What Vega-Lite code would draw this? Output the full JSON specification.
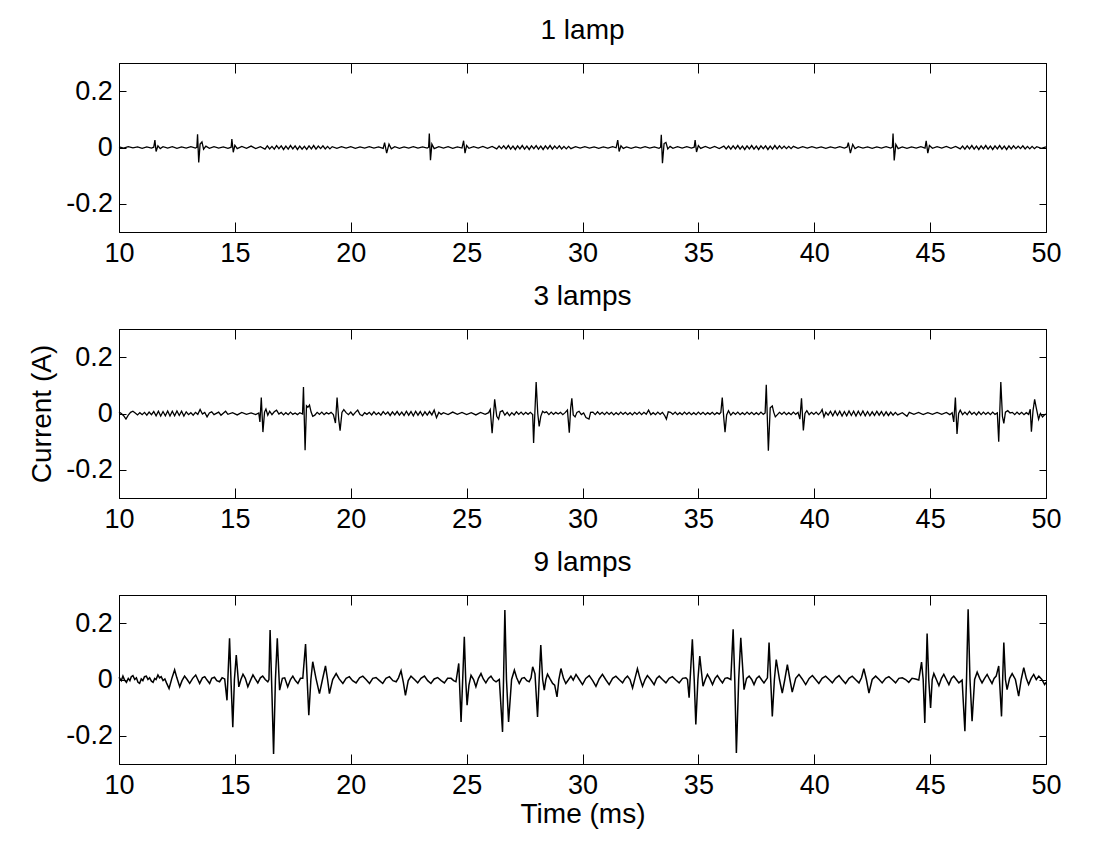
{
"$schema":"https://vega.github.io/schema/vega-lite/v6.json",
"background":"white",
"padding":{"left":28,"top":16,"right":5,"bottom":5},
"config":{
 "view":{"stroke":"black","strokeWidth":1},
 "axis":{"domainColor":"black","tickColor":"black","labelColor":"black","labelFont":"Liberation Sans","labelFontSize":27,"grid":false,"domainWidth":1,"tickWidth":1,"titleFont":"Liberation Sans","titleFontWeight":"normal","titleColor":"black","titleFontSize":28,"labelFlush":false,"labelOverlap":false},
 "title":{"font":"Liberation Sans","fontSize":28,"fontWeight":"normal","color":"black","baseline":"alphabetic","offset":18}
},
"datasets":{
"l1":[{"t":10.0,"v":0.002},{"t":10.2,"v":-0.002},{"t":10.4,"v":0.003},{"t":10.6,"v":-0.001},{"t":10.8,"v":0.002},{"t":11.0,"v":-0.003},{"t":11.2,"v":0.002},{"t":11.4,"v":-0.002},{"t":11.5,"v":0.001},{"t":11.55,"v":0.026},{"t":11.6,"v":-0.014},{"t":11.68,"v":0.006},{"t":11.78,"v":-0.004},{"t":11.9,"v":0.003},{"t":12.1,"v":-0.002},{"t":12.3,"v":0.003},{"t":12.5,"v":-0.003},{"t":12.7,"v":0.002},{"t":12.9,"v":-0.002},{"t":13.1,"v":0.003},{"t":13.3,"v":-0.002},{"t":13.36,"v":0.001},{"t":13.39,"v":0.047},{"t":13.44,"v":-0.053},{"t":13.5,"v":0.012},{"t":13.58,"v":0.02},{"t":13.65,"v":-0.006},{"t":13.75,"v":0.005},{"t":13.9,"v":-0.003},{"t":14.1,"v":0.003},{"t":14.3,"v":-0.002},{"t":14.5,"v":0.002},{"t":14.7,"v":-0.003},{"t":14.84,"v":0.001},{"t":14.87,"v":0.03},{"t":14.93,"v":-0.017},{"t":15.0,"v":0.008},{"t":15.1,"v":-0.004},{"t":15.3,"v":0.004},{"t":15.5,"v":-0.003},{"t":15.7,"v":0.005},{"t":15.9,"v":-0.004},{"t":16.1,"v":0.003},{"t":16.3,"v":-0.006},{"t":16.4,"v":0.006},{"t":16.5,"v":-0.005},{"t":16.6,"v":0.004},{"t":16.7,"v":-0.006},{"t":16.8,"v":0.007},{"t":16.9,"v":-0.004},{"t":17.0,"v":0.006},{"t":17.1,"v":-0.007},{"t":17.2,"v":0.005},{"t":17.3,"v":-0.006},{"t":17.4,"v":0.007},{"t":17.5,"v":-0.005},{"t":17.6,"v":0.006},{"t":17.7,"v":-0.007},{"t":17.8,"v":0.005},{"t":17.9,"v":-0.006},{"t":18.0,"v":0.004},{"t":18.1,"v":-0.007},{"t":18.2,"v":0.006},{"t":18.3,"v":-0.005},{"t":18.4,"v":0.007},{"t":18.5,"v":-0.006},{"t":18.6,"v":0.005},{"t":18.7,"v":-0.004},{"t":18.8,"v":0.006},{"t":18.9,"v":-0.005},{"t":19.0,"v":0.004},{"t":19.1,"v":-0.005},{"t":19.2,"v":0.003},{"t":19.4,"v":-0.003},{"t":19.6,"v":0.003},{"t":19.8,"v":-0.002},{"t":20.0,"v":0.003},{"t":20.2,"v":-0.003},{"t":20.4,"v":0.002},{"t":20.6,"v":-0.002},{"t":20.8,"v":0.003},{"t":21.0,"v":-0.002},{"t":21.2,"v":0.002},{"t":21.4,"v":-0.003},{"t":21.46,"v":0.017},{"t":21.55,"v":-0.02},{"t":21.65,"v":0.012},{"t":21.75,"v":-0.005},{"t":21.9,"v":0.003},{"t":22.1,"v":-0.003},{"t":22.3,"v":0.002},{"t":22.5,"v":-0.002},{"t":22.7,"v":0.003},{"t":22.9,"v":-0.002},{"t":23.1,"v":0.002},{"t":23.3,"v":-0.002},{"t":23.36,"v":0.001},{"t":23.39,"v":0.05},{"t":23.44,"v":-0.045},{"t":23.5,"v":0.012},{"t":23.6,"v":-0.004},{"t":23.8,"v":0.003},{"t":24.0,"v":-0.002},{"t":24.2,"v":0.003},{"t":24.4,"v":-0.003},{"t":24.6,"v":0.002},{"t":24.8,"v":-0.002},{"t":24.87,"v":0.024},{"t":24.93,"v":-0.02},{"t":25.0,"v":0.007},{"t":25.1,"v":-0.003},{"t":25.3,"v":0.003},{"t":25.5,"v":-0.002},{"t":25.7,"v":0.004},{"t":25.9,"v":-0.003},{"t":26.1,"v":0.004},{"t":26.3,"v":-0.005},{"t":26.4,"v":0.005},{"t":26.5,"v":-0.004},{"t":26.6,"v":0.006},{"t":26.7,"v":-0.005},{"t":26.8,"v":0.007},{"t":26.9,"v":-0.006},{"t":27.0,"v":0.005},{"t":27.1,"v":-0.007},{"t":27.2,"v":0.006},{"t":27.3,"v":-0.005},{"t":27.4,"v":0.007},{"t":27.5,"v":-0.006},{"t":27.6,"v":0.005},{"t":27.7,"v":-0.007},{"t":27.8,"v":0.006},{"t":27.9,"v":-0.004},{"t":28.0,"v":0.007},{"t":28.1,"v":-0.006},{"t":28.2,"v":0.005},{"t":28.3,"v":-0.007},{"t":28.4,"v":0.006},{"t":28.5,"v":-0.005},{"t":28.6,"v":0.007},{"t":28.7,"v":-0.006},{"t":28.8,"v":0.005},{"t":28.9,"v":-0.004},{"t":29.0,"v":0.006},{"t":29.1,"v":-0.005},{"t":29.2,"v":0.004},{"t":29.3,"v":-0.005},{"t":29.4,"v":0.004},{"t":29.5,"v":-0.004},{"t":29.7,"v":0.003},{"t":29.9,"v":-0.002},{"t":30.1,"v":0.003},{"t":30.3,"v":-0.002},{"t":30.5,"v":0.002},{"t":30.7,"v":-0.003},{"t":30.9,"v":0.002},{"t":31.1,"v":-0.002},{"t":31.3,"v":0.003},{"t":31.45,"v":-0.001},{"t":31.52,"v":0.026},{"t":31.58,"v":-0.014},{"t":31.66,"v":0.006},{"t":31.76,"v":-0.003},{"t":31.9,"v":0.002},{"t":32.1,"v":-0.003},{"t":32.3,"v":0.002},{"t":32.5,"v":-0.002},{"t":32.7,"v":0.003},{"t":32.9,"v":-0.002},{"t":33.1,"v":0.002},{"t":33.3,"v":-0.003},{"t":33.37,"v":0.001},{"t":33.4,"v":0.045},{"t":33.45,"v":-0.056},{"t":33.52,"v":0.014},{"t":33.6,"v":0.018},{"t":33.68,"v":-0.005},{"t":33.78,"v":0.004},{"t":33.9,"v":-0.003},{"t":34.1,"v":0.003},{"t":34.3,"v":-0.002},{"t":34.5,"v":0.003},{"t":34.7,"v":-0.002},{"t":34.82,"v":0.001},{"t":34.86,"v":0.026},{"t":34.92,"v":-0.016},{"t":35.0,"v":0.007},{"t":35.1,"v":-0.003},{"t":35.3,"v":0.004},{"t":35.5,"v":-0.003},{"t":35.7,"v":0.004},{"t":35.9,"v":-0.004},{"t":36.1,"v":0.005},{"t":36.2,"v":-0.005},{"t":36.3,"v":0.005},{"t":36.4,"v":-0.006},{"t":36.5,"v":0.006},{"t":36.6,"v":-0.005},{"t":36.7,"v":0.007},{"t":36.8,"v":-0.006},{"t":36.9,"v":0.005},{"t":37.0,"v":-0.007},{"t":37.1,"v":0.006},{"t":37.2,"v":-0.005},{"t":37.3,"v":0.007},{"t":37.4,"v":-0.006},{"t":37.5,"v":0.005},{"t":37.6,"v":-0.007},{"t":37.7,"v":0.006},{"t":37.8,"v":-0.004},{"t":37.9,"v":0.006},{"t":38.0,"v":-0.007},{"t":38.1,"v":0.005},{"t":38.2,"v":-0.006},{"t":38.3,"v":0.007},{"t":38.4,"v":-0.005},{"t":38.5,"v":0.006},{"t":38.6,"v":-0.004},{"t":38.7,"v":0.005},{"t":38.8,"v":-0.004},{"t":38.9,"v":0.004},{"t":39.0,"v":-0.004},{"t":39.1,"v":0.004},{"t":39.3,"v":-0.003},{"t":39.5,"v":0.003},{"t":39.7,"v":-0.002},{"t":39.9,"v":0.003},{"t":40.1,"v":-0.002},{"t":40.3,"v":0.002},{"t":40.5,"v":-0.003},{"t":40.7,"v":0.002},{"t":40.9,"v":-0.002},{"t":41.1,"v":0.003},{"t":41.3,"v":-0.002},{"t":41.42,"v":0.002},{"t":41.47,"v":0.017},{"t":41.56,"v":-0.02},{"t":41.66,"v":0.011},{"t":41.76,"v":-0.004},{"t":41.9,"v":0.003},{"t":42.1,"v":-0.002},{"t":42.3,"v":0.002},{"t":42.5,"v":-0.003},{"t":42.7,"v":0.002},{"t":42.9,"v":-0.002},{"t":43.1,"v":0.003},{"t":43.3,"v":-0.002},{"t":43.37,"v":0.001},{"t":43.4,"v":0.05},{"t":43.45,"v":-0.046},{"t":43.52,"v":0.011},{"t":43.62,"v":-0.004},{"t":43.8,"v":0.002},{"t":44.0,"v":-0.003},{"t":44.2,"v":0.002},{"t":44.4,"v":-0.002},{"t":44.6,"v":0.003},{"t":44.78,"v":-0.002},{"t":44.83,"v":0.024},{"t":44.9,"v":-0.02},{"t":44.97,"v":0.007},{"t":45.1,"v":-0.003},{"t":45.3,"v":0.003},{"t":45.5,"v":-0.002},{"t":45.7,"v":0.004},{"t":45.9,"v":-0.003},{"t":46.1,"v":0.004},{"t":46.3,"v":-0.005},{"t":46.4,"v":0.005},{"t":46.5,"v":-0.006},{"t":46.6,"v":0.006},{"t":46.7,"v":-0.005},{"t":46.8,"v":0.007},{"t":46.9,"v":-0.006},{"t":47.0,"v":0.005},{"t":47.1,"v":-0.007},{"t":47.2,"v":0.006},{"t":47.3,"v":-0.005},{"t":47.4,"v":0.007},{"t":47.5,"v":-0.006},{"t":47.6,"v":0.005},{"t":47.7,"v":-0.007},{"t":47.8,"v":0.006},{"t":47.9,"v":-0.005},{"t":48.0,"v":0.007},{"t":48.1,"v":-0.006},{"t":48.2,"v":0.005},{"t":48.3,"v":-0.007},{"t":48.4,"v":0.006},{"t":48.5,"v":-0.005},{"t":48.6,"v":0.006},{"t":48.7,"v":-0.004},{"t":48.8,"v":0.005},{"t":48.9,"v":-0.004},{"t":49.0,"v":0.006},{"t":49.1,"v":-0.005},{"t":49.2,"v":0.004},{"t":49.3,"v":-0.005},{"t":49.4,"v":0.004},{"t":49.5,"v":-0.004},{"t":49.6,"v":0.003},{"t":49.8,"v":-0.003},{"t":50.0,"v":0.002}],
"l3":[{"t":10.0,"v":0.005},{"t":10.1,"v":0.0},{"t":10.2,"v":-0.008},{"t":10.3,"v":-0.02},{"t":10.4,"v":-0.006},{"t":10.5,"v":0.004},{"t":10.6,"v":0.008},{"t":10.7,"v":0.002},{"t":10.8,"v":-0.005},{"t":10.9,"v":0.003},{"t":11.0,"v":-0.004},{"t":11.1,"v":0.004},{"t":11.2,"v":-0.006},{"t":11.3,"v":0.005},{"t":11.4,"v":-0.004},{"t":11.5,"v":0.007},{"t":11.6,"v":-0.008},{"t":11.7,"v":0.008},{"t":11.8,"v":-0.009},{"t":11.9,"v":0.007},{"t":12.0,"v":-0.008},{"t":12.1,"v":0.009},{"t":12.2,"v":-0.009},{"t":12.3,"v":0.008},{"t":12.4,"v":-0.008},{"t":12.5,"v":0.009},{"t":12.6,"v":-0.007},{"t":12.7,"v":0.008},{"t":12.8,"v":-0.009},{"t":12.9,"v":0.006},{"t":13.0,"v":-0.004},{"t":13.1,"v":0.003},{"t":13.2,"v":-0.006},{"t":13.3,"v":0.004},{"t":13.4,"v":-0.003},{"t":13.5,"v":0.014},{"t":13.6,"v":-0.002},{"t":13.7,"v":0.004},{"t":13.8,"v":-0.012},{"t":13.9,"v":0.002},{"t":14.0,"v":0.006},{"t":14.1,"v":-0.004},{"t":14.3,"v":0.005},{"t":14.4,"v":-0.006},{"t":14.6,"v":0.008},{"t":14.7,"v":-0.003},{"t":14.9,"v":0.003},{"t":15.1,"v":-0.005},{"t":15.3,"v":0.004},{"t":15.5,"v":-0.003},{"t":15.7,"v":0.002},{"t":15.9,"v":-0.004},{"t":16.03,"v":0.002},{"t":16.08,"v":-0.03},{"t":16.14,"v":0.057},{"t":16.21,"v":-0.066},{"t":16.28,"v":0.005},{"t":16.34,"v":0.016},{"t":16.42,"v":-0.006},{"t":16.5,"v":0.008},{"t":16.6,"v":-0.004},{"t":16.7,"v":0.006},{"t":16.8,"v":0.012},{"t":16.9,"v":-0.002},{"t":17.0,"v":0.004},{"t":17.1,"v":-0.005},{"t":17.2,"v":0.003},{"t":17.3,"v":-0.004},{"t":17.4,"v":0.005},{"t":17.5,"v":-0.003},{"t":17.6,"v":0.002},{"t":17.7,"v":-0.004},{"t":17.8,"v":0.003},{"t":17.92,"v":-0.002},{"t":17.96,"v":0.094},{"t":18.03,"v":-0.13},{"t":18.09,"v":0.027},{"t":18.15,"v":0.022},{"t":18.22,"v":0.03},{"t":18.29,"v":0.005},{"t":18.36,"v":-0.01},{"t":18.45,"v":-0.006},{"t":18.55,"v":0.004},{"t":18.65,"v":-0.003},{"t":18.75,"v":0.005},{"t":18.85,"v":-0.004},{"t":18.95,"v":0.003},{"t":19.05,"v":-0.002},{"t":19.15,"v":0.004},{"t":19.25,"v":-0.004},{"t":19.34,"v":-0.034},{"t":19.41,"v":0.057},{"t":19.48,"v":-0.02},{"t":19.54,"v":-0.061},{"t":19.62,"v":0.004},{"t":19.7,"v":0.014},{"t":19.8,"v":0.003},{"t":19.9,"v":-0.004},{"t":20.0,"v":0.005},{"t":20.1,"v":-0.006},{"t":20.2,"v":0.004},{"t":20.3,"v":0.012},{"t":20.4,"v":-0.004},{"t":20.5,"v":-0.008},{"t":20.6,"v":0.003},{"t":20.7,"v":-0.003},{"t":20.8,"v":0.004},{"t":20.9,"v":-0.005},{"t":21.0,"v":0.006},{"t":21.1,"v":-0.004},{"t":21.2,"v":0.003},{"t":21.3,"v":-0.006},{"t":21.4,"v":0.007},{"t":21.5,"v":-0.003},{"t":21.6,"v":0.005},{"t":21.7,"v":-0.007},{"t":21.8,"v":0.006},{"t":21.9,"v":-0.005},{"t":22.0,"v":0.007},{"t":22.1,"v":-0.006},{"t":22.2,"v":0.005},{"t":22.3,"v":-0.007},{"t":22.4,"v":0.008},{"t":22.5,"v":-0.006},{"t":22.6,"v":0.007},{"t":22.7,"v":-0.008},{"t":22.8,"v":0.008},{"t":22.9,"v":-0.006},{"t":23.0,"v":0.007},{"t":23.1,"v":-0.008},{"t":23.2,"v":0.006},{"t":23.3,"v":-0.006},{"t":23.4,"v":0.007},{"t":23.5,"v":-0.005},{"t":23.6,"v":0.012},{"t":23.7,"v":-0.015},{"t":23.8,"v":0.004},{"t":23.9,"v":-0.003},{"t":24.0,"v":0.003},{"t":24.2,"v":-0.004},{"t":24.4,"v":0.005},{"t":24.6,"v":-0.003},{"t":24.8,"v":0.004},{"t":25.0,"v":-0.004},{"t":25.2,"v":0.003},{"t":25.4,"v":-0.005},{"t":25.6,"v":0.004},{"t":25.8,"v":-0.003},{"t":25.95,"v":0.003},{"t":26.02,"v":0.014},{"t":26.1,"v":-0.07},{"t":26.21,"v":0.05},{"t":26.3,"v":-0.01},{"t":26.38,"v":-0.02},{"t":26.45,"v":0.006},{"t":26.55,"v":0.01},{"t":26.65,"v":-0.006},{"t":26.75,"v":0.004},{"t":26.85,"v":-0.008},{"t":26.95,"v":0.003},{"t":27.05,"v":-0.005},{"t":27.15,"v":0.006},{"t":27.25,"v":-0.003},{"t":27.35,"v":0.005},{"t":27.45,"v":-0.004},{"t":27.55,"v":0.004},{"t":27.65,"v":-0.003},{"t":27.75,"v":0.004},{"t":27.85,"v":-0.004},{"t":27.89,"v":-0.105},{"t":28.0,"v":0.112},{"t":28.07,"v":0.0},{"t":28.13,"v":-0.046},{"t":28.2,"v":-0.01},{"t":28.28,"v":0.008},{"t":28.36,"v":0.003},{"t":28.45,"v":0.006},{"t":28.55,"v":-0.004},{"t":28.65,"v":0.005},{"t":28.75,"v":-0.003},{"t":28.85,"v":0.004},{"t":28.95,"v":-0.002},{"t":29.05,"v":0.004},{"t":29.15,"v":-0.004},{"t":29.25,"v":0.003},{"t":29.35,"v":0.012},{"t":29.43,"v":-0.068},{"t":29.49,"v":0.02},{"t":29.54,"v":0.054},{"t":29.6,"v":-0.005},{"t":29.68,"v":-0.012},{"t":29.76,"v":0.004},{"t":29.85,"v":0.008},{"t":29.95,"v":-0.004},{"t":30.05,"v":0.002},{"t":30.15,"v":-0.014},{"t":30.28,"v":-0.02},{"t":30.35,"v":0.004},{"t":30.45,"v":0.005},{"t":30.55,"v":-0.004},{"t":30.65,"v":0.006},{"t":30.75,"v":-0.003},{"t":30.85,"v":0.004},{"t":30.95,"v":-0.004},{"t":31.05,"v":0.005},{"t":31.15,"v":-0.003},{"t":31.25,"v":0.004},{"t":31.35,"v":-0.005},{"t":31.45,"v":0.003},{"t":31.55,"v":-0.004},{"t":31.65,"v":0.005},{"t":31.75,"v":-0.003},{"t":31.85,"v":0.004},{"t":31.95,"v":-0.004},{"t":32.05,"v":0.003},{"t":32.15,"v":-0.005},{"t":32.25,"v":0.004},{"t":32.35,"v":-0.003},{"t":32.45,"v":0.005},{"t":32.55,"v":-0.004},{"t":32.65,"v":0.004},{"t":32.75,"v":-0.003},{"t":32.85,"v":0.012},{"t":32.95,"v":-0.004},{"t":33.05,"v":0.003},{"t":33.15,"v":-0.004},{"t":33.25,"v":0.005},{"t":33.35,"v":-0.003},{"t":33.45,"v":0.004},{"t":33.55,"v":-0.008},{"t":33.62,"v":-0.02},{"t":33.7,"v":0.006},{"t":33.8,"v":0.004},{"t":33.9,"v":-0.003},{"t":34.0,"v":0.005},{"t":34.1,"v":-0.004},{"t":34.2,"v":0.003},{"t":34.3,"v":-0.004},{"t":34.4,"v":0.005},{"t":34.5,"v":-0.003},{"t":34.6,"v":0.004},{"t":34.7,"v":-0.004},{"t":34.8,"v":0.003},{"t":34.9,"v":-0.004},{"t":35.0,"v":0.005},{"t":35.1,"v":-0.003},{"t":35.2,"v":0.004},{"t":35.3,"v":-0.004},{"t":35.4,"v":0.003},{"t":35.5,"v":-0.003},{"t":35.6,"v":0.004},{"t":35.7,"v":-0.004},{"t":35.8,"v":0.003},{"t":35.9,"v":-0.002},{"t":35.97,"v":0.004},{"t":36.03,"v":0.057},{"t":36.1,"v":-0.02},{"t":36.15,"v":-0.066},{"t":36.22,"v":-0.005},{"t":36.3,"v":0.01},{"t":36.4,"v":-0.006},{"t":36.5,"v":0.004},{"t":36.6,"v":-0.003},{"t":36.7,"v":0.005},{"t":36.8,"v":-0.004},{"t":36.9,"v":0.003},{"t":37.0,"v":-0.004},{"t":37.1,"v":0.005},{"t":37.2,"v":-0.003},{"t":37.3,"v":0.004},{"t":37.4,"v":-0.004},{"t":37.5,"v":0.003},{"t":37.6,"v":-0.004},{"t":37.7,"v":0.005},{"t":37.8,"v":-0.003},{"t":37.88,"v":0.002},{"t":37.93,"v":0.102},{"t":38.02,"v":-0.132},{"t":38.1,"v":0.02},{"t":38.19,"v":0.027},{"t":38.25,"v":0.005},{"t":38.32,"v":-0.012},{"t":38.4,"v":-0.005},{"t":38.5,"v":0.004},{"t":38.6,"v":-0.003},{"t":38.7,"v":0.005},{"t":38.8,"v":-0.004},{"t":38.9,"v":0.003},{"t":39.0,"v":-0.004},{"t":39.1,"v":0.005},{"t":39.2,"v":-0.003},{"t":39.3,"v":0.004},{"t":39.38,"v":-0.02},{"t":39.45,"v":0.054},{"t":39.53,"v":-0.06},{"t":39.6,"v":0.0},{"t":39.68,"v":0.01},{"t":39.78,"v":-0.004},{"t":39.88,"v":0.004},{"t":39.98,"v":-0.003},{"t":40.08,"v":0.005},{"t":40.18,"v":-0.004},{"t":40.28,"v":0.005},{"t":40.34,"v":0.014},{"t":40.42,"v":-0.012},{"t":40.5,"v":0.004},{"t":40.6,"v":-0.006},{"t":40.7,"v":0.008},{"t":40.8,"v":-0.008},{"t":40.9,"v":0.009},{"t":41.0,"v":-0.007},{"t":41.1,"v":0.008},{"t":41.2,"v":-0.009},{"t":41.3,"v":0.007},{"t":41.4,"v":-0.008},{"t":41.5,"v":0.009},{"t":41.6,"v":-0.007},{"t":41.7,"v":0.008},{"t":41.8,"v":-0.009},{"t":41.9,"v":0.008},{"t":42.0,"v":-0.007},{"t":42.1,"v":0.009},{"t":42.2,"v":-0.008},{"t":42.3,"v":0.007},{"t":42.4,"v":-0.008},{"t":42.5,"v":0.006},{"t":42.6,"v":-0.007},{"t":42.7,"v":0.008},{"t":42.8,"v":-0.006},{"t":42.9,"v":0.007},{"t":43.0,"v":-0.008},{"t":43.1,"v":0.006},{"t":43.2,"v":-0.007},{"t":43.3,"v":0.005},{"t":43.4,"v":-0.006},{"t":43.5,"v":0.004},{"t":43.6,"v":-0.005},{"t":43.8,"v":0.003},{"t":44.0,"v":-0.01},{"t":44.1,"v":0.004},{"t":44.3,"v":-0.003},{"t":44.5,"v":0.004},{"t":44.7,"v":-0.004},{"t":44.9,"v":0.003},{"t":45.1,"v":-0.003},{"t":45.3,"v":0.004},{"t":45.5,"v":-0.003},{"t":45.7,"v":0.004},{"t":45.85,"v":-0.004},{"t":45.95,"v":0.003},{"t":46.02,"v":-0.03},{"t":46.09,"v":0.057},{"t":46.16,"v":-0.073},{"t":46.23,"v":0.0},{"t":46.3,"v":0.012},{"t":46.4,"v":-0.004},{"t":46.5,"v":0.005},{"t":46.6,"v":-0.004},{"t":46.7,"v":0.008},{"t":46.8,"v":-0.003},{"t":46.9,"v":0.004},{"t":47.0,"v":-0.005},{"t":47.1,"v":0.006},{"t":47.2,"v":-0.004},{"t":47.3,"v":0.005},{"t":47.4,"v":-0.003},{"t":47.5,"v":0.004},{"t":47.6,"v":-0.004},{"t":47.7,"v":0.005},{"t":47.8,"v":-0.003},{"t":47.9,"v":0.002},{"t":47.96,"v":-0.1},{"t":48.05,"v":0.112},{"t":48.12,"v":-0.01},{"t":48.18,"v":-0.035},{"t":48.25,"v":0.005},{"t":48.35,"v":0.01},{"t":48.45,"v":0.002},{"t":48.55,"v":0.004},{"t":48.65,"v":-0.004},{"t":48.75,"v":0.005},{"t":48.85,"v":-0.003},{"t":48.95,"v":0.004},{"t":49.05,"v":-0.004},{"t":49.15,"v":0.003},{"t":49.25,"v":-0.003},{"t":49.32,"v":0.015},{"t":49.37,"v":-0.065},{"t":49.44,"v":0.01},{"t":49.51,"v":0.05},{"t":49.58,"v":0.02},{"t":49.68,"v":-0.02},{"t":49.76,"v":0.0},{"t":49.85,"v":-0.012},{"t":49.95,"v":-0.004},{"t":50.0,"v":-0.002}],
"l9":[{"t":10.0,"v":0.008},{"t":10.1,"v":-0.004},{"t":10.17,"v":0.012},{"t":10.24,"v":-0.002},{"t":10.32,"v":-0.01},{"t":10.4,"v":0.004},{"t":10.47,"v":-0.004},{"t":10.53,"v":0.01},{"t":10.6,"v":0.014},{"t":10.68,"v":0.0},{"t":10.75,"v":0.006},{"t":10.82,"v":-0.01},{"t":10.89,"v":-0.014},{"t":10.96,"v":0.002},{"t":11.03,"v":-0.004},{"t":11.1,"v":0.01},{"t":11.18,"v":0.012},{"t":11.25,"v":0.0},{"t":11.32,"v":0.006},{"t":11.4,"v":-0.006},{"t":11.47,"v":-0.01},{"t":11.54,"v":0.004},{"t":11.6,"v":0.0},{"t":11.68,"v":0.016},{"t":11.75,"v":0.006},{"t":11.82,"v":0.01},{"t":11.9,"v":-0.004},{"t":11.98,"v":0.002},{"t":12.05,"v":-0.012},{"t":12.16,"v":-0.032},{"t":12.28,"v":0.004},{"t":12.4,"v":0.034},{"t":12.5,"v":0.005},{"t":12.62,"v":-0.026},{"t":12.72,"v":-0.004},{"t":12.83,"v":0.012},{"t":12.94,"v":0.0},{"t":13.05,"v":-0.014},{"t":13.18,"v":0.004},{"t":13.31,"v":0.016},{"t":13.4,"v":0.0},{"t":13.48,"v":-0.014},{"t":13.6,"v":0.006},{"t":13.7,"v":0.01},{"t":13.8,"v":-0.002},{"t":13.91,"v":-0.014},{"t":14.0,"v":0.004},{"t":14.12,"v":0.008},{"t":14.22,"v":-0.004},{"t":14.34,"v":-0.008},{"t":14.45,"v":0.006},{"t":14.56,"v":0.002},{"t":14.66,"v":-0.074},{"t":14.77,"v":0.146},{"t":14.84,"v":-0.02},{"t":14.91,"v":-0.169},{"t":14.98,"v":0.0},{"t":15.06,"v":0.087},{"t":15.17,"v":-0.026},{"t":15.26,"v":0.0},{"t":15.35,"v":0.019},{"t":15.45,"v":0.004},{"t":15.56,"v":-0.026},{"t":15.67,"v":-0.004},{"t":15.78,"v":0.016},{"t":15.88,"v":0.002},{"t":15.99,"v":-0.012},{"t":16.1,"v":0.006},{"t":16.2,"v":0.012},{"t":16.31,"v":0.0},{"t":16.42,"v":-0.008},{"t":16.47,"v":0.0},{"t":16.52,"v":0.176},{"t":16.6,"v":-0.05},{"t":16.67,"v":-0.264},{"t":16.75,"v":0.0},{"t":16.83,"v":0.146},{"t":16.93,"v":-0.038},{"t":17.05,"v":0.004},{"t":17.15,"v":0.006},{"t":17.28,"v":-0.026},{"t":17.4,"v":0.0},{"t":17.5,"v":0.012},{"t":17.61,"v":-0.004},{"t":17.72,"v":-0.014},{"t":17.83,"v":0.004},{"t":17.93,"v":0.004},{"t":18.05,"v":0.126},{"t":18.12,"v":0.0},{"t":18.19,"v":-0.127},{"t":18.28,"v":0.0},{"t":18.36,"v":0.063},{"t":18.5,"v":0.004},{"t":18.65,"v":-0.05},{"t":18.78,"v":0.0},{"t":18.91,"v":0.048},{"t":19.0,"v":0.0},{"t":19.08,"v":-0.05},{"t":19.22,"v":0.0},{"t":19.37,"v":0.021},{"t":19.5,"v":0.002},{"t":19.66,"v":-0.014},{"t":19.8,"v":0.004},{"t":19.94,"v":0.01},{"t":20.08,"v":-0.004},{"t":20.23,"v":-0.012},{"t":20.38,"v":0.006},{"t":20.52,"v":0.012},{"t":20.66,"v":0.0},{"t":20.81,"v":-0.014},{"t":20.95,"v":0.004},{"t":21.09,"v":0.007},{"t":21.24,"v":-0.004},{"t":21.38,"v":-0.014},{"t":21.52,"v":0.004},{"t":21.67,"v":0.01},{"t":21.82,"v":-0.004},{"t":21.96,"v":-0.008},{"t":22.06,"v":0.006},{"t":22.17,"v":0.031},{"t":22.27,"v":-0.01},{"t":22.36,"v":-0.056},{"t":22.48,"v":-0.004},{"t":22.6,"v":0.012},{"t":22.75,"v":0.0},{"t":22.89,"v":-0.012},{"t":23.03,"v":0.004},{"t":23.18,"v":0.012},{"t":23.32,"v":-0.004},{"t":23.46,"v":-0.014},{"t":23.6,"v":0.002},{"t":23.75,"v":0.007},{"t":23.9,"v":-0.004},{"t":24.04,"v":-0.012},{"t":24.18,"v":0.004},{"t":24.33,"v":0.004},{"t":24.44,"v":-0.004},{"t":24.54,"v":-0.008},{"t":24.66,"v":0.057},{"t":24.76,"v":-0.151},{"t":24.83,"v":0.0},{"t":24.9,"v":0.152},{"t":24.96,"v":0.0},{"t":25.02,"v":-0.091},{"t":25.1,"v":-0.02},{"t":25.19,"v":0.015},{"t":25.3,"v":0.0},{"t":25.4,"v":-0.026},{"t":25.51,"v":0.004},{"t":25.62,"v":0.021},{"t":25.72,"v":0.002},{"t":25.83,"v":-0.012},{"t":25.94,"v":0.004},{"t":26.05,"v":0.012},{"t":26.16,"v":-0.002},{"t":26.27,"v":-0.008},{"t":26.41,"v":0.0},{"t":26.55,"v":-0.186},{"t":26.65,"v":0.247},{"t":26.72,"v":0.0},{"t":26.81,"v":-0.151},{"t":26.94,"v":0.0},{"t":27.06,"v":0.033},{"t":27.16,"v":0.006},{"t":27.27,"v":-0.014},{"t":27.38,"v":0.004},{"t":27.49,"v":0.007},{"t":27.6,"v":-0.004},{"t":27.7,"v":-0.008},{"t":27.78,"v":0.006},{"t":27.85,"v":0.045},{"t":27.95,"v":0.02},{"t":28.06,"v":-0.133},{"t":28.13,"v":0.0},{"t":28.2,"v":0.122},{"t":28.28,"v":0.0},{"t":28.35,"v":-0.038},{"t":28.42,"v":0.0},{"t":28.49,"v":0.019},{"t":28.6,"v":0.002},{"t":28.71,"v":-0.014},{"t":28.8,"v":-0.02},{"t":28.9,"v":-0.062},{"t":28.98,"v":0.0},{"t":29.07,"v":0.039},{"t":29.18,"v":0.004},{"t":29.28,"v":-0.014},{"t":29.4,"v":0.0},{"t":29.5,"v":0.012},{"t":29.6,"v":-0.002},{"t":29.72,"v":0.018},{"t":29.86,"v":0.0},{"t":30.0,"v":-0.018},{"t":30.14,"v":0.004},{"t":30.29,"v":0.014},{"t":30.44,"v":-0.004},{"t":30.58,"v":-0.024},{"t":30.72,"v":0.002},{"t":30.86,"v":0.018},{"t":31.0,"v":0.0},{"t":31.15,"v":-0.018},{"t":31.3,"v":0.004},{"t":31.44,"v":0.012},{"t":31.58,"v":0.0},{"t":31.73,"v":-0.012},{"t":31.84,"v":0.004},{"t":31.94,"v":0.012},{"t":32.05,"v":0.0},{"t":32.16,"v":-0.03},{"t":32.27,"v":0.006},{"t":32.37,"v":0.038},{"t":32.48,"v":0.004},{"t":32.59,"v":-0.024},{"t":32.7,"v":0.0},{"t":32.8,"v":0.014},{"t":32.94,"v":0.0},{"t":33.09,"v":-0.018},{"t":33.2,"v":0.004},{"t":33.31,"v":0.012},{"t":33.45,"v":0.0},{"t":33.6,"v":-0.012},{"t":33.74,"v":0.004},{"t":33.88,"v":0.01},{"t":34.03,"v":-0.002},{"t":34.17,"v":-0.012},{"t":34.32,"v":0.004},{"t":34.46,"v":0.006},{"t":34.53,"v":0.0},{"t":34.6,"v":-0.065},{"t":34.74,"v":0.143},{"t":34.82,"v":0.0},{"t":34.89,"v":-0.16},{"t":34.98,"v":0.0},{"t":35.06,"v":0.083},{"t":35.2,"v":-0.024},{"t":35.3,"v":0.0},{"t":35.39,"v":0.018},{"t":35.5,"v":0.002},{"t":35.61,"v":-0.018},{"t":35.72,"v":0.004},{"t":35.82,"v":0.014},{"t":35.93,"v":0.0},{"t":36.04,"v":-0.012},{"t":36.15,"v":0.004},{"t":36.25,"v":0.006},{"t":36.4,"v":0.0},{"t":36.5,"v":0.178},{"t":36.57,"v":0.0},{"t":36.64,"v":-0.261},{"t":36.74,"v":0.0},{"t":36.83,"v":0.148},{"t":36.97,"v":-0.036},{"t":37.08,"v":0.004},{"t":37.19,"v":0.012},{"t":37.3,"v":0.0},{"t":37.4,"v":-0.018},{"t":37.51,"v":0.004},{"t":37.62,"v":0.012},{"t":37.72,"v":0.0},{"t":37.83,"v":-0.012},{"t":37.98,"v":0.006},{"t":38.05,"v":0.131},{"t":38.12,"v":0.0},{"t":38.19,"v":-0.131},{"t":38.28,"v":0.0},{"t":38.36,"v":0.071},{"t":38.5,"v":0.0},{"t":38.62,"v":-0.048},{"t":38.73,"v":0.0},{"t":38.84,"v":0.053},{"t":38.95,"v":0.0},{"t":39.05,"v":-0.045},{"t":39.2,"v":0.004},{"t":39.34,"v":0.018},{"t":39.48,"v":0.002},{"t":39.63,"v":-0.018},{"t":39.78,"v":0.004},{"t":39.92,"v":0.014},{"t":40.06,"v":0.0},{"t":40.2,"v":-0.014},{"t":40.34,"v":0.004},{"t":40.49,"v":0.012},{"t":40.64,"v":0.0},{"t":40.78,"v":-0.012},{"t":40.92,"v":0.004},{"t":41.07,"v":0.014},{"t":41.2,"v":0.0},{"t":41.35,"v":-0.014},{"t":41.5,"v":0.004},{"t":41.64,"v":0.012},{"t":41.78,"v":0.0},{"t":41.93,"v":-0.012},{"t":42.04,"v":0.006},{"t":42.14,"v":0.038},{"t":42.25,"v":0.0},{"t":42.36,"v":-0.048},{"t":42.5,"v":0.0},{"t":42.65,"v":0.012},{"t":42.8,"v":0.0},{"t":42.93,"v":-0.012},{"t":43.08,"v":0.004},{"t":43.22,"v":0.01},{"t":43.36,"v":0.0},{"t":43.51,"v":-0.012},{"t":43.65,"v":0.004},{"t":43.8,"v":0.006},{"t":43.94,"v":0.0},{"t":44.08,"v":-0.01},{"t":44.22,"v":0.004},{"t":44.37,"v":0.002},{"t":44.51,"v":-0.002},{"t":44.63,"v":0.062},{"t":44.7,"v":0.0},{"t":44.77,"v":-0.154},{"t":44.82,"v":0.0},{"t":44.87,"v":0.163},{"t":44.94,"v":0.0},{"t":45.02,"v":-0.101},{"t":45.09,"v":0.0},{"t":45.16,"v":0.021},{"t":45.27,"v":0.0},{"t":45.38,"v":-0.022},{"t":45.49,"v":0.004},{"t":45.59,"v":0.018},{"t":45.7,"v":0.0},{"t":45.81,"v":-0.018},{"t":45.92,"v":0.004},{"t":46.02,"v":0.012},{"t":46.13,"v":0.0},{"t":46.24,"v":-0.012},{"t":46.38,"v":-0.002},{"t":46.5,"v":-0.184},{"t":46.57,"v":0.0},{"t":46.64,"v":0.249},{"t":46.72,"v":0.0},{"t":46.81,"v":-0.148},{"t":46.92,"v":0.0},{"t":47.03,"v":0.026},{"t":47.14,"v":0.004},{"t":47.24,"v":-0.012},{"t":47.35,"v":0.004},{"t":47.46,"v":0.018},{"t":47.57,"v":0.0},{"t":47.67,"v":-0.014},{"t":47.76,"v":0.004},{"t":47.85,"v":0.012},{"t":47.96,"v":0.048},{"t":48.08,"v":-0.131},{"t":48.13,"v":0.0},{"t":48.18,"v":0.131},{"t":48.25,"v":0.0},{"t":48.32,"v":-0.036},{"t":48.43,"v":0.004},{"t":48.54,"v":0.021},{"t":48.68,"v":0.0},{"t":48.82,"v":-0.059},{"t":48.93,"v":0.0},{"t":49.04,"v":0.042},{"t":49.15,"v":0.004},{"t":49.25,"v":-0.018},{"t":49.36,"v":0.004},{"t":49.47,"v":0.018},{"t":49.58,"v":0.0},{"t":49.69,"v":0.012},{"t":49.82,"v":0.0},{"t":49.94,"v":-0.018},{"t":50.0,"v":-0.01}]
},
"vconcat":[
{"title":{"text":"1 lamp"},"width":927,"height":169,"data":{"name":"l1"},
 "layer":[
  {"mark":{"type":"line","color":"black","strokeWidth":1.3},
   "encoding":{
    "x":{"field":"t","type":"quantitative","scale":{"domain":[10,50],"nice":false,"zero":false},"axis":{"orient":"bottom","values":[10,15,20,25,30,35,40,45,50],"title":null,"tickSize":-10,"labelPadding":18}},
    "y":{"field":"v","type":"quantitative","scale":{"domain":[-0.3,0.3],"nice":false,"zero":false},"axis":{"orient":"left","values":[-0.2,0,0.2],"labelExpr":"replace(format(datum.value,'.1~f'),'\u2212','-')","title":null,"tickSize":-7,"labelPadding":13.6}}}},
  {"mark":{"type":"line","opacity":0},
   "encoding":{
    "x":{"field":"t","type":"quantitative","axis":{"orient":"top","values":[10,15,20,25,30,35,40,45,50],"labels":false,"title":null,"tickSize":-10}},
    "y":{"field":"v","type":"quantitative","axis":{"orient":"right","values":[-0.2,0,0.2],"labels":false,"title":null,"tickSize":-7}}}}
 ],
 "resolve":{"axis":{"x":"independent","y":"independent"}}},
{"title":{"text":"3 lamps"},"width":927,"height":169,"data":{"name":"l3"},
 "layer":[
  {"mark":{"type":"line","color":"black","strokeWidth":1.3},
   "encoding":{
    "x":{"field":"t","type":"quantitative","scale":{"domain":[10,50],"nice":false,"zero":false},"axis":{"orient":"bottom","values":[10,15,20,25,30,35,40,45,50],"title":null,"tickSize":-10,"labelPadding":18}},
    "y":{"field":"v","type":"quantitative","scale":{"domain":[-0.3,0.3],"nice":false,"zero":false},"axis":{"orient":"left","values":[-0.2,0,0.2],"labelExpr":"replace(format(datum.value,'.1~f'),'\u2212','-')","title":"Current (A)","titlePadding":9,"tickSize":-7,"labelPadding":13.6}}}},
  {"mark":{"type":"line","opacity":0},
   "encoding":{
    "x":{"field":"t","type":"quantitative","axis":{"orient":"top","values":[10,15,20,25,30,35,40,45,50],"labels":false,"title":null,"tickSize":-10}},
    "y":{"field":"v","type":"quantitative","axis":{"orient":"right","values":[-0.2,0,0.2],"labels":false,"title":null,"tickSize":-7}}}}
 ],
 "resolve":{"axis":{"x":"independent","y":"independent"}}},
{"title":{"text":"9 lamps"},"width":927,"height":169,"data":{"name":"l9"},
 "layer":[
  {"mark":{"type":"line","color":"black","strokeWidth":1.5},
   "encoding":{
    "x":{"field":"t","type":"quantitative","scale":{"domain":[10,50],"nice":false,"zero":false},"axis":{"orient":"bottom","values":[10,15,20,25,30,35,40,45,50],"title":"Time (ms)","titlePadding":2,"tickSize":-10,"labelPadding":18}},
    "y":{"field":"v","type":"quantitative","scale":{"domain":[-0.3,0.3],"nice":false,"zero":false},"axis":{"orient":"left","values":[-0.2,0,0.2],"labelExpr":"replace(format(datum.value,'.1~f'),'\u2212','-')","title":null,"tickSize":-7,"labelPadding":13.6}}}},
  {"mark":{"type":"line","opacity":0},
   "encoding":{
    "x":{"field":"t","type":"quantitative","axis":{"orient":"top","values":[10,15,20,25,30,35,40,45,50],"labels":false,"title":null,"tickSize":-10}},
    "y":{"field":"v","type":"quantitative","axis":{"orient":"right","values":[-0.2,0,0.2],"labels":false,"title":null,"tickSize":-7}}}}
 ],
 "resolve":{"axis":{"x":"independent","y":"independent"}}}
],
"spacing":97,
"bounds":"flush"
}
